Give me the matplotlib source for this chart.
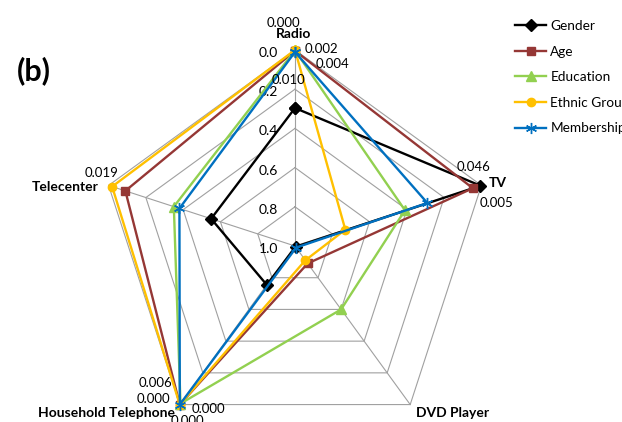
import numpy as np
import matplotlib
matplotlib.use("Agg")
import matplotlib.pyplot as plt
from matplotlib.lines import Line2D

plt.rcParams['font.family'] = ['Lato', 'DejaVu Sans']

# spokes, clockwise from the top
categories = ["Radio", "TV", "DVD Player", "Household Telephone", "Telecenter"]

# p-values per factor, one per spoke
gender = [0.296, 0.005, 0.995, 0.755, 0.55]
age = [0.004, 0.046, 0.89, 0.000, 0.09]
education = [0.002, 0.41, 0.60, 0.006, 0.35]
ethnic_group = [0.000, 0.73, 0.91, 0.000, 0.019]
membership = [0.010, 0.29, 0.99, 0.000, 0.38]

series_names = ["Gender", "Age", "Education", "Ethnic Group", "Membership"]
series_values = [gender, age, education, ethnic_group, membership]

radial_ticks = [0.0, 0.2, 0.4, 0.6, 0.8, 1.0]

styles = {
    "Gender": dict(color="#000000", marker="D", ms=6),
    "Age": dict(color="#953735", marker="s", ms=6),
    "Education": dict(color="#92D050", marker="^", ms=7),
    "Ethnic Group": dict(color="#FFC000", marker="o", ms=6),
    "Membership": dict(color="#0070C0", marker=(6, 2, 0), ms=8),
}

# which points carry a value label: (series, spoke index, offset in pixels)
value_labels = [
    ("Ethnic Group", 0, (-12, 27)),
    ("Education", 0, (26, 1)),
    ("Age", 0, (38, -13)),
    ("Membership", 0, (-7, -28)),
    ("Age", 1, (1, 21)),
    ("Gender", 1, (16, -17)),
    ("Ethnic Group", 4, (-11, 14)),
    ("Education", 3, (-25, 21)),
    ("Age", 3, (-26, 6)),
    ("Ethnic Group", 3, (29, -4)),
    ("Membership", 3, (8, -16)),
]

cat_label_pos = [
    ((-1, 16), "center"),
    ((7, 2), "left"),
    ((6, -8), "left"),
    ((-5, -8), "right"),
    ((-10, -2), "right"),
]

n = len(categories)
theta = np.arange(n) * 2 * np.pi / n
theta_closed = np.append(theta, theta[0])

fig = plt.figure(figsize=(6.22, 4.22), dpi=100)
R = 196
cx, cy = 295, 422 - 246
ax = fig.add_axes([(cx - R) / 622, (cy - R) / 422, 2 * R / 622, 2 * R / 422],
                  projection="polar")
ax.set_theta_offset(np.pi / 2)
ax.set_theta_direction(-1)
ax.set_rlim(1.0, 0.0)
ax.grid(False)
ax.set_xticks([])
ax.set_yticks([])
ax.spines["polar"].set_visible(False)
ax.patch.set_visible(False)

grid_color = "#a0a0a0"
for r in radial_ticks[:-1]:
    ax.plot(theta_closed, [r] * (n + 1), color=grid_color, lw=0.8, clip_on=False, zorder=1)
for t in theta:
    ax.plot([t, t], [1.0, 0.0], color=grid_color, lw=0.8, clip_on=False, zorder=1)

for r in radial_ticks:
    ax.annotate(f"{r:.1f}", xy=(0, r), xytext=(-17, -3), textcoords="offset pixels",
                ha="right", va="center", fontsize=10)

for name, vals in zip(series_names, series_values):
    st = styles[name]
    ax.plot(theta_closed, list(vals) + [vals[0]], color=st["color"], lw=1.7,
            marker=st["marker"], ms=st["ms"], mec=st["color"], mfc=st["color"],
            clip_on=False, zorder=3)

vals_by_name = dict(zip(series_names, series_values))
for name, i, off in value_labels:
    v = vals_by_name[name][i]
    ax.annotate(f"{v:.3f}", xy=(theta[i], v), xytext=off, textcoords="offset pixels",
                ha="center", va="center", fontsize=9.5)

for i, (off, ha) in enumerate(cat_label_pos):
    ax.annotate(categories[i], xy=(theta[i], 0.0), xytext=off, textcoords="offset pixels",
                ha=ha, va="center", fontsize=10, fontweight="bold")

fig.text(34 / 622, 1 - 71 / 422, "(b)", fontsize=22, fontweight="bold", ha="center", va="center")

handles = [Line2D([], [], color=styles[s]["color"], lw=1.7, marker=styles[s]["marker"],
                  ms=styles[s]["ms"], mec=styles[s]["color"], mfc=styles[s]["color"])
           for s in series_names]
fig.legend(handles, series_names, loc="upper left", bbox_to_anchor=(515 / 622, 1 - 20 / 422),
           frameon=False, fontsize=9.8, handlelength=2.3, handletextpad=0.3,
           labelspacing=1.0, borderaxespad=0, borderpad=0)

fig.savefig("out.png", dpi=100)
